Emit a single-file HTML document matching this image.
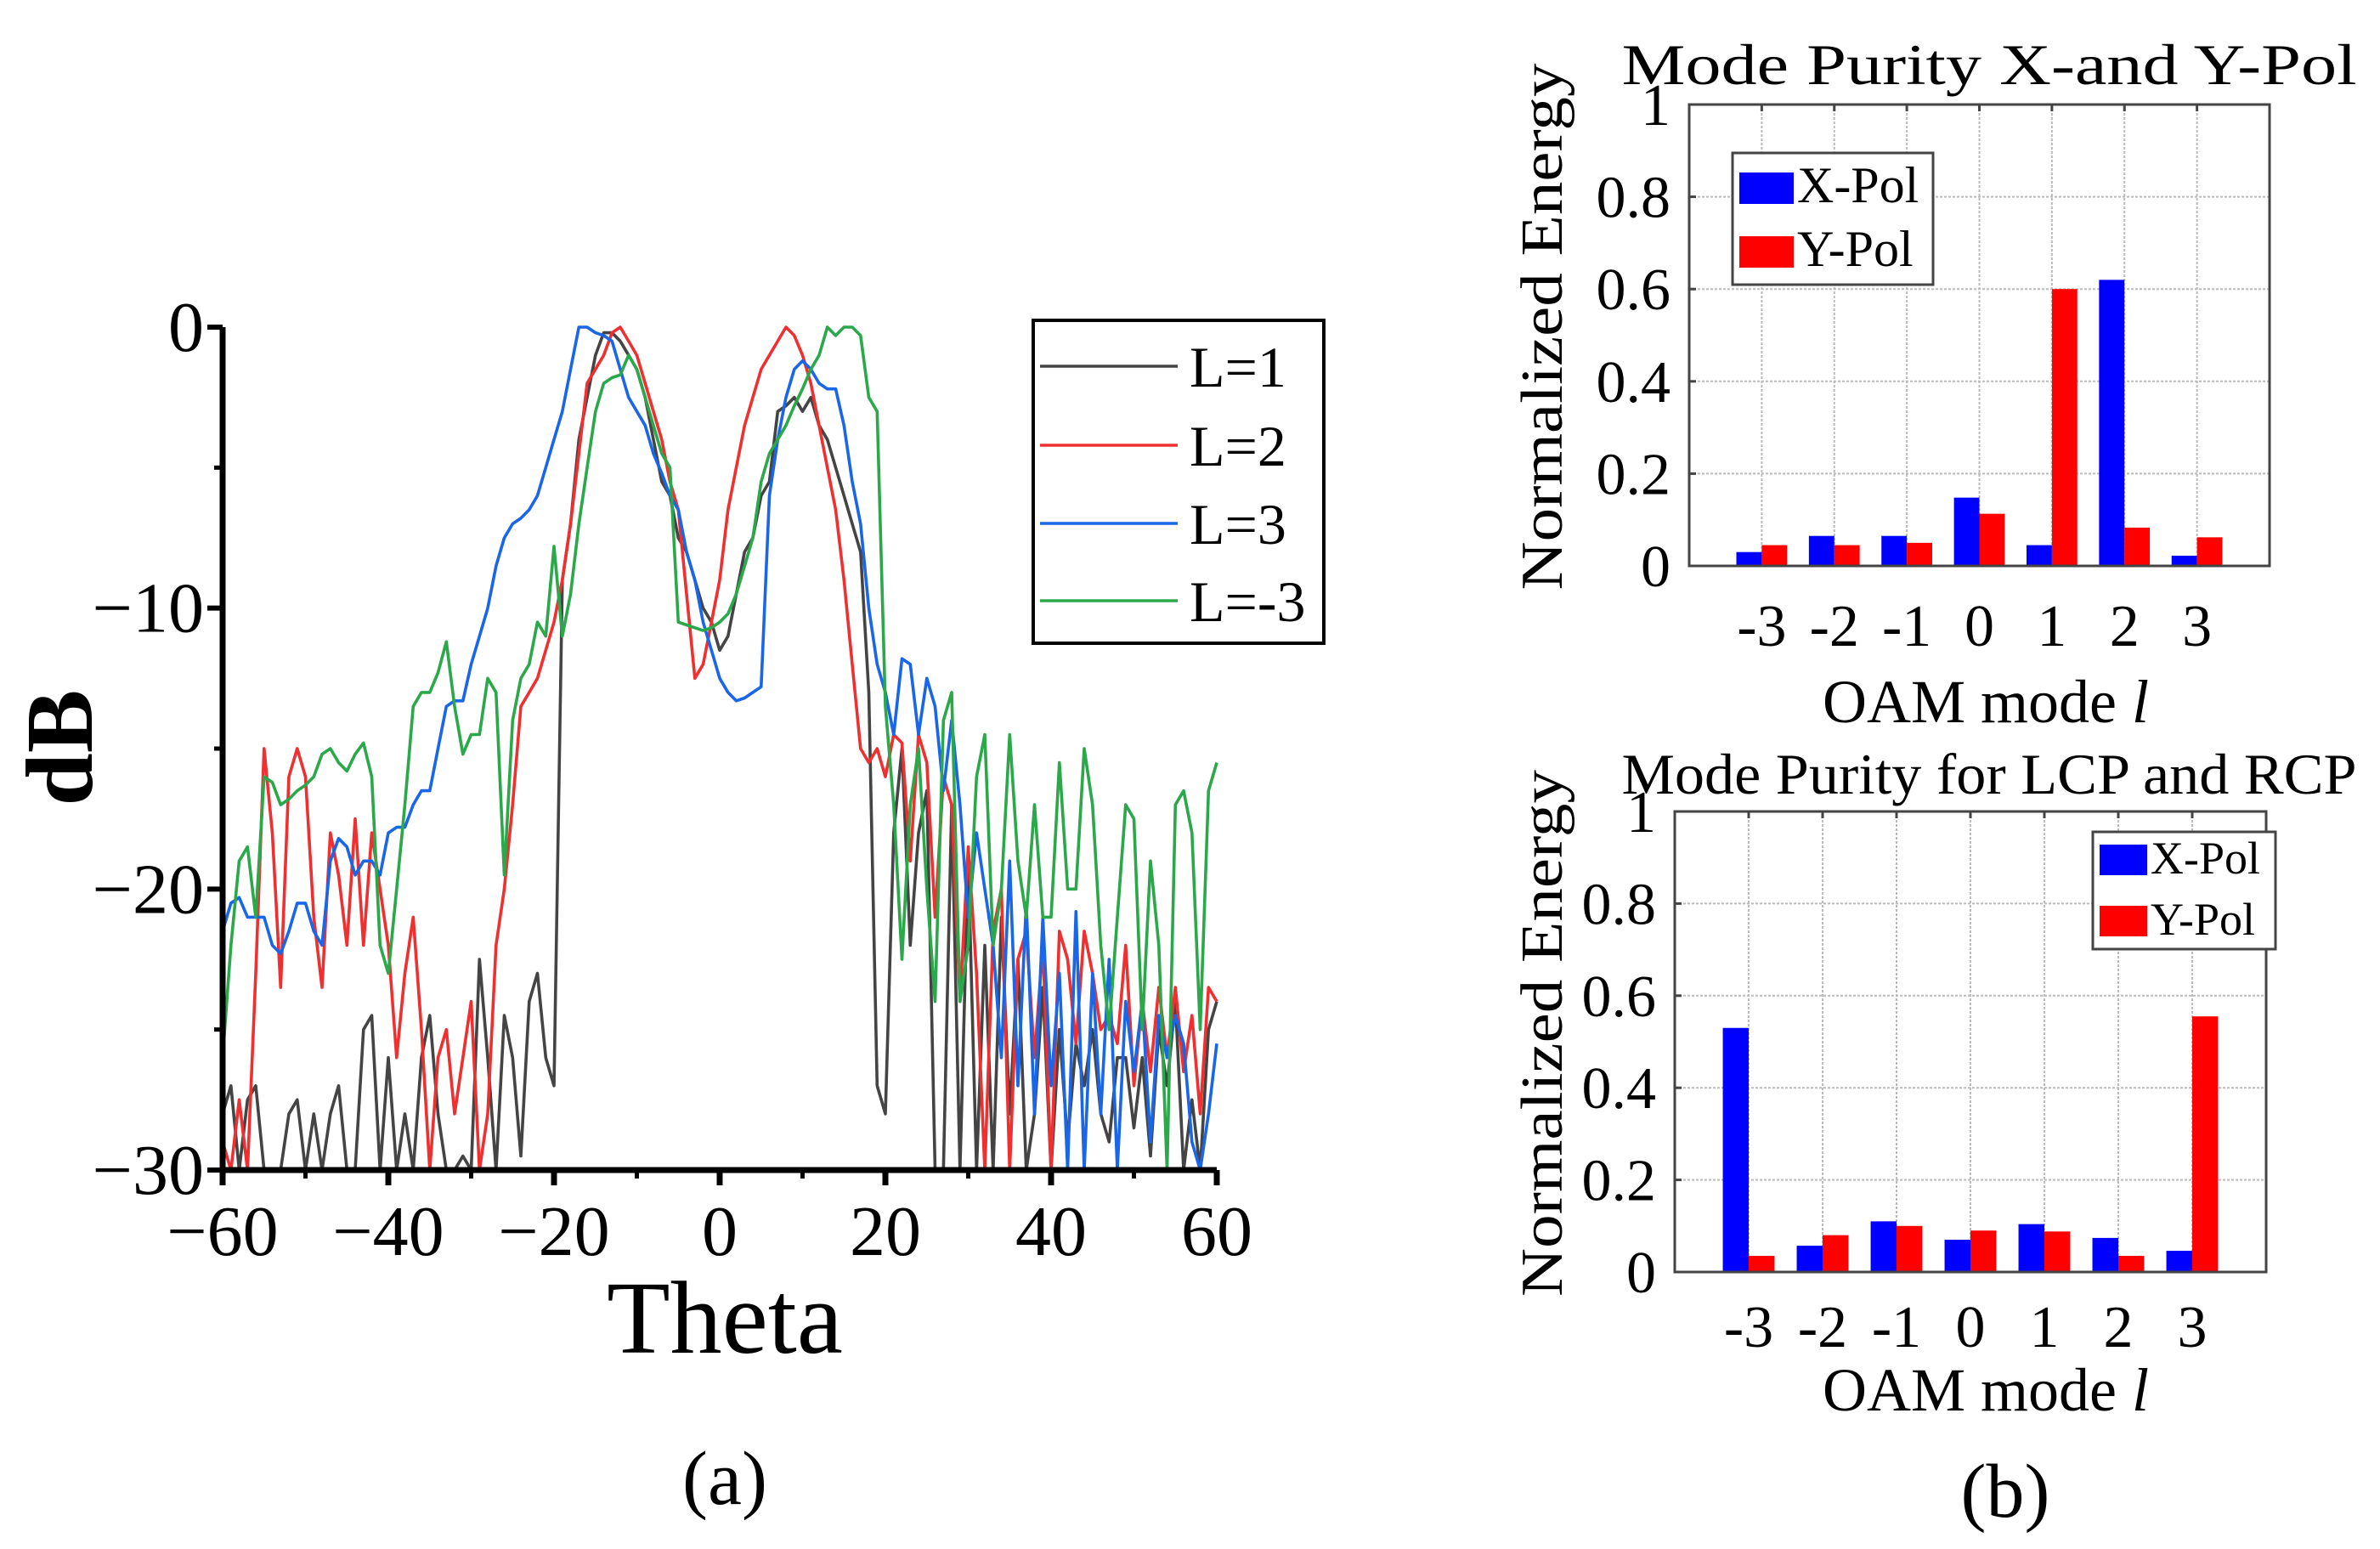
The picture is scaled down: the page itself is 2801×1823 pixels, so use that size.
<!DOCTYPE html>
<html><head><meta charset="utf-8">
<style>
html,body{margin:0;padding:0;background:#fff;}
svg{display:block;font-family:"Liberation Serif",serif;}
</style></head>
<body>
<svg id="fig" width="2801" height="1823" viewBox="0 0 2801 1823" xmlns="http://www.w3.org/2000/svg">
<defs><clipPath id="clipA"><rect x="262" y="380" width="1172" height="997"/></clipPath></defs>
<g id="chartA"></g>
<g id="chartB"></g>
<g id="chartC"></g>
<text x="853" y="1770" font-size="90" text-anchor="middle">(a)</text>
<text x="2360" y="1785" font-size="90" text-anchor="middle">(b)</text>
</svg>
<script>
// ---------- Panel (a) data ----------
const thetaStart = -60;
const seriesNames = ["L=1","L=2","L=3","L=-3"];
const seriesColors = ["#444444","#f03030","#1a66e8","#2ba84a"];
const dbL1 = [-28,-27,-30,-27.5,-27,-30,-30,-30,-28,-27.5,-30,-28,-30,-28,-27,-30,-30,-25,-24.5,-30,-26,-30,-28,-30,-26,-24.5,-28,-30,-30,-29.5,-30,-22.5,-26,-30,-24.5,-26,-29.5,-24,-23,-26,-27,-9,-7,-4,-2.5,-1,-0.2,-0.2,-0.5,-1,-1.5,-2.5,-4,-5.5,-6,-7.5,-8,-9,-10,-10.5,-11.5,-11,-9.5,-8,-7.5,-6,-5.5,-3,-2.8,-2.5,-3,-2.5,-3.5,-4,-5,-6,-7,-8,-13,-27,-28,-18,-15,-22,-18,-16.5,-30,-30,-17,-30,-19,-30,-22,-30,-21,-28,-22.5,-30,-28,-23.5,-30,-25,-29,-25.5,-27,-25,-28,-29,-26,-26,-28.5,-26,-29.5,-25,-27,-24,-30,-27.5,-30,-25,-24];
const dbL2 = [-29,-30,-27.5,-30,-23,-15,-18,-23.5,-16,-15,-16,-21,-23.5,-18,-19.5,-22,-17.5,-22,-18,-20,-22,-26,-23,-21,-25,-30,-26,-25,-28,-26,-24,-30,-28,-22,-20,-17,-13.5,-13,-12.5,-11.5,-10.5,-9,-7,-4.5,-2,-1.5,-1,-0.2,0,-0.5,-1,-2,-3,-4,-5.5,-6.5,-9.5,-12.5,-12,-10.5,-9,-6.5,-5,-3.5,-2.5,-1.5,-1,-0.5,0,-0.3,-1,-2,-3.5,-5,-6.5,-9,-12,-15,-15.5,-15,-16,-14.5,-14.8,-19,-14.5,-15.5,-21,-16,-17,-24,-18.5,-23,-30,-21.5,-20,-30,-22.5,-21.5,-26,-22,-30,-21.5,-22.5,-25.5,-21.5,-23,-25,-24.5,-25.5,-22,-27,-24,-26.5,-23.5,-26,-23.5,-26.5,-24.5,-28,-23.5,-24];
const dbL3 = [-21.5,-20.5,-20.3,-21,-21,-21,-22,-22.3,-21.5,-20.5,-20.5,-21.5,-22,-19,-18.2,-18.5,-19.5,-19,-19,-19.5,-18,-17.8,-17.8,-17,-16.5,-16.5,-15,-13.5,-13.3,-13.3,-12,-11,-10,-8.5,-7.5,-7,-6.8,-6.5,-6,-5,-4,-3,-1.5,0,0,-0.2,-0.3,-0.5,-1.5,-2.5,-3,-3.5,-4.5,-5.2,-6,-6.5,-8,-9,-10.5,-11.5,-12.5,-13,-13.3,-13.2,-13,-12.8,-6,-4,-2.5,-1.5,-1.2,-1.5,-2,-2.2,-2.2,-3.5,-5.5,-7,-10,-12,-13,-14.5,-11.8,-12,-14.5,-12.5,-13.5,-16.5,-14,-17,-21,-18,-20,-22,-26,-19,-27,-20.5,-28,-21,-27,-23,-30,-20.8,-30,-23,-28,-22.5,-30,-24,-26.5,-24,-29,-24.5,-26,-24.5,-25.5,-29,-30,-28,-25.5];
const dbLm3 = [-26,-22,-19,-18.5,-21,-16,-16.2,-17,-16.8,-16.5,-16.3,-16,-15.2,-15,-15.5,-15.8,-15.2,-14.8,-16,-22,-23,-20,-17,-13.5,-13,-13,-12.3,-11.2,-13.5,-15.2,-14.5,-14.5,-12.5,-13,-19.5,-14,-12.5,-12,-10.5,-11,-7.8,-11,-9.5,-7,-5,-3,-2,-1.8,-1.7,-1,-1.5,-2.5,-3.5,-4.5,-5,-10.5,-10.6,-10.7,-10.8,-10.7,-10.5,-10.2,-9.5,-8.5,-7.5,-5.5,-4.5,-4,-3.5,-2.8,-2.2,-1.5,-1,0,-0.3,0,0,-0.3,-2.5,-3,-13.5,-17,-22.5,-17,-15,-20,-24,-14,-13,-24,-22,-16,-14.5,-22,-20,-14.5,-19,-21,-17,-21,-21,-15.5,-20,-20,-15,-17,-22,-25,-21,-17,-17.5,-25,-19,-22,-30,-17,-16.5,-18,-25,-16.5,-15.5];
const xTicksA = [-60,-40,-20,0,20,40,60];
const yTicksA = [0,-10,-20,-30];

// ---------- Panel (b) data ----------
const modes = ["-3","-2","-1","0","1","2","3"];
const xpolTop = [0.03,0.065,0.065,0.148,0.045,0.62,0.022];
const ypolTop = [0.045,0.045,0.05,0.113,0.60,0.083,0.062];
const xpolBot = [0.53,0.057,0.11,0.07,0.104,0.074,0.046];
const ypolBot = [0.035,0.08,0.10,0.09,0.088,0.035,0.555];
const yTicksB = [0,0.2,0.4,0.6,0.8,1];
const yTickLabelsB = ["0","0.2","0.4","0.6","0.8","1"];

const NS = "http://www.w3.org/2000/svg";
function mk(parent, tag, attrs, text){
  const e = document.createElementNS(NS, tag);
  for (const k in attrs) e.setAttribute(k, attrs[k]);
  if (text !== undefined) e.textContent = text;
  parent.appendChild(e);
  return e;
}

// ---- Chart A ----
(function(){
  const g = document.getElementById('chartA');
  const L=262, R=1432, T=385, B=1377;
  const xs = v => L + (v+60)/120*(R-L);
  const ys = v => T + (0-v)/30*(B-T);
  const all = [dbL1, dbL2, dbL3, dbLm3];
  const lg = mk(g,'g',{'clip-path':'url(#clipA)'});
  all.forEach((arr,si)=>{
    const d = arr.map((v,i)=>(i?'L':'M')+xs(thetaStart+i).toFixed(1)+' '+ys(v).toFixed(1)).join(' ');
    const p = mk(lg,'path',{d:d,fill:'none',stroke:seriesColors[si],'stroke-width':3.6,'stroke-linejoin':'round'});
    
    
  });
  const ax = mk(g,'path',{d:`M${L} ${T} L${L} ${B} L${R} ${B}`,fill:'none',stroke:'#000','stroke-width':7});
  
  
  xTicksA.forEach(v=>{
    mk(g,'line',{x1:xs(v),x2:xs(v),y1:B,y2:B+18,stroke:'#000','stroke-width':7});
    const t = mk(g,'text',{x:xs(v),y:1477,'font-size':84,'text-anchor':'middle'}, v<0?'\u2212'+Math.abs(v):String(v));
    
    
  });
  for(let v=-50; v<60; v+=20){ mk(g,'line',{x1:xs(v),x2:xs(v),y1:B,y2:B+10,stroke:'#000','stroke-width':5}); }
  yTicksA.forEach(v=>{
    mk(g,'line',{x1:L-18,x2:L,y1:ys(v),y2:ys(v),stroke:'#000','stroke-width':6});
    const t = mk(g,'text',{x:L-22,y:ys(v)+28,'font-size':84,'text-anchor':'end'}, v<0?'\u2212'+Math.abs(v):String(v));
    
    
  });
  for(let v=-5; v>-30; v-=10){ mk(g,'line',{x1:L-10,x2:L,y1:ys(v),y2:ys(v),stroke:'#000','stroke-width':5}); }
  const xt = mk(g,'text',{x:853,y:1592,'font-size':122,'text-anchor':'middle'},'Theta');
  
  
  const yt = mk(g,'text',{x:0,y:0,'font-size':112,'font-weight':'bold','text-anchor':'middle',transform:'translate(108,880) rotate(-90)'},'dB');
  
  
  const leg = mk(g,'g',{});
  
  
  mk(leg,'rect',{x:1216,y:377,width:342,height:380,fill:'#fff',stroke:'#000','stroke-width':4});
  const ly=[431,524,616,707];
  seriesNames.forEach((n,i)=>{
    const e = mk(leg,'g',{});
    
    
    mk(e,'line',{x1:1224,x2:1386,y1:ly[i],y2:ly[i],stroke:seriesColors[i],'stroke-width':3.5});
    mk(e,'text',{x:1400,y:ly[i]+24,'font-size':68},n);
  });
})();

// ---- Bar charts ----
function barChart(gid, L, R, T, B, xv, yv, title, titleY, tickY, labelY, leg){
  const g = document.getElementById(gid);
  const xs = v => L + (v+4)/8*(R-L);
  const ys = v => B - v*(B-T);
  const unit = (R-L)/8, bw = unit*0.35;
  yTicksB.forEach(v=>{ if(v>0&&v<1) mk(g,'line',{x1:L,x2:R,y1:ys(v),y2:ys(v),stroke:'#bbb','stroke-width':2,'stroke-dasharray':'3 2'}); });
  modes.forEach((m,i)=>{ mk(g,'line',{x1:xs(i-3),x2:xs(i-3),y1:T,y2:B,stroke:'#bbb','stroke-width':2,'stroke-dasharray':'3 2'}); });
  modes.forEach((m,i)=>{
    const c = xs(i-3);
    const b1 = mk(g,'rect',{x:c-bw,y:ys(xv[i]),width:bw,height:B-ys(xv[i]),fill:'#0000ff'});
    
    
    const b2 = mk(g,'rect',{x:c,y:ys(yv[i]),width:bw,height:B-ys(yv[i]),fill:'#ff0000'});
    
    
    const t = mk(g,'text',{x:c,y:tickY,'font-size':70,'text-anchor':'middle'},m);
    
    
    mk(g,'line',{x1:c,x2:c,y1:T,y2:T+8,stroke:'#444','stroke-width':3});
  });
  yTicksB.forEach((v,i)=>{
    mk(g,'line',{x1:L,x2:L+8,y1:ys(v),y2:ys(v),stroke:'#444','stroke-width':3});
    const t = mk(g,'text',{x:L-22,y:ys(v)+24,'font-size':70,'text-anchor':'end'},yTickLabelsB[i]);
    
    
  });
  const fr = mk(g,'rect',{x:L,y:T,width:R-L,height:B-T,fill:'none',stroke:'#444','stroke-width':3});
  
  
  const tt = mk(g,'text',{x:2341,y:titleY,'font-size':68,'text-anchor':'middle',textLength:865,lengthAdjust:'spacingAndGlyphs'},title);
  
  
  const xl = mk(g,'text',{x:2337,y:labelY,'font-size':72,'text-anchor':'middle'});
  
  
  xl.appendChild(document.createTextNode('OAM mode '));
  mk(xl,'tspan',{'font-style':'italic'},'l');
  const yl = mk(g,'text',{x:0,y:0,'font-size':70,'text-anchor':'middle',textLength:620,lengthAdjust:'spacingAndGlyphs',transform:`translate(1838,${(T+B)/2-10}) rotate(-90)`},'Normalized Energy');
  
  
  const lgG = mk(g,'g',{});
  
  
  mk(lgG,'rect',{x:leg.x,y:leg.y,width:leg.w,height:leg.h,fill:'#fff',stroke:'#444','stroke-width':3});
  [['X-Pol','#0000ff'],['Y-Pol','#ff0000']].forEach((e,i)=>{
    const eg = mk(lgG,'g',{});
    
    
    const yy = leg.y + leg.pad + i*leg.step;
    mk(eg,'rect',{x:leg.x+8,y:yy,width:leg.sw,height:leg.sh,fill:e[1]});
    mk(eg,'text',{x:leg.x+12+leg.sw,y:yy+leg.sh-2,'font-size':leg.fs},e[0]);
  });
}
barChart('chartB',1988,2671,123,666,xpolTop,ypolTop,'Mode Purity   X-and Y-Pol',99,760,850,
  {x:2039,y:180,w:236,h:155,pad:23,step:75,sw:64,sh:37,fs:60});
barChart('chartC',1971,2667,955,1497,xpolBot,ypolBot,'Mode Purity for LCP and RCP',934,1585,1660,
  {x:2463,y:979,w:215,h:138,pad:15,step:72,sw:56,sh:36,fs:54});
</script>
</body></html>
